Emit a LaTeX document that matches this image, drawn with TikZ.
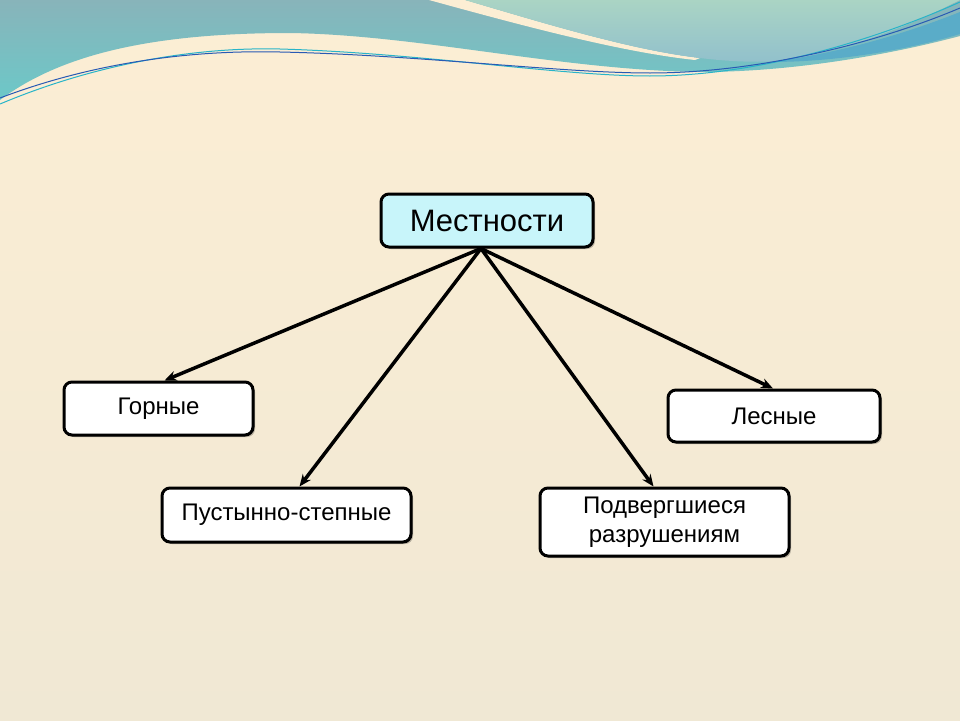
\documentclass[tikz,border=0pt]{standalone}
\usepackage{fontspec}
\setmainfont{Liberation Sans}
\usetikzlibrary{calc,arrows.meta,shadows}
\definecolor{creamtop}{RGB}{252,238,212}
\definecolor{creambot}{RGB}{240,232,212}
\definecolor{tealtop}{RGB}{136,180,186}
\definecolor{tealbot}{RGB}{108,200,200}
\definecolor{greentop}{RGB}{170,212,196}
\definecolor{greenbot}{RGB}{145,192,204}
\definecolor{darkband}{RGB}{90,172,200}
\definecolor{lineblue}{RGB}{40,90,180}
\definecolor{lineteal}{RGB}{40,180,200}
\definecolor{headfill}{RGB}{200,245,250}
\tikzset{
  box/.style={draw=black, line width=3pt, rounded corners=8pt, fill=white, align=center, inner sep=0pt,
    drop shadow={shadow xshift=2pt, shadow yshift=-2pt, fill=black, opacity=0.25},
    font=\fontsize{24}{29}\selectfont},
  arr/.style={line width=3.5pt, -{Stealth[length=12pt,width=10pt]}}
}
\begin{document}
\begin{tikzpicture}[x=1pt,y=-1pt]
\shade[top color=creamtop,bottom color=creambot] (0,0) rectangle (960,720);
\useasboundingbox (0,0) rectangle (960,720);
% teal wave
\shade[top color=tealtop,bottom color=tealbot] (0,0) -- (0,100) .. controls (60,55) and (150,33) .. (290,33) .. controls (420,35) and (560,70) .. (700,72) .. controls (800,72) and (900,52) .. (960,36) -- (960,0) -- cycle;
% cream wedge
\fill[creamtop] (429,0) .. controls (520,25) and (620,52) .. (695,60) -- (700,58) .. controls (630,50) and (540,22) .. (465,0) -- cycle;
% light green region
\shade[top color=greentop,bottom color=greenbot] (465,0) .. controls (540,22) and (630,50) .. (700,58) .. controls (740,63) and (780,63) .. (800,58) .. controls (880,40) and (930,15) .. (960,0) -- cycle;
% darker band
\fill[darkband] (770,62) .. controls (850,52) and (920,28) .. (960,12) -- (960,34) .. controls (900,52) and (830,62) .. (770,62) -- cycle;
% lines
\draw[lineteal,line width=1pt] (0,104) .. controls (100,62) and (200,47) .. (280,49) .. controls (420,53) and (560,76) .. (650,76) .. controls (760,76) and (880,38) .. (960,2);
\draw[lineblue,line width=1pt] (0,98) .. controls (100,60) and (200,50) .. (280,52) .. controls (420,55) and (560,73) .. (650,73) .. controls (760,73) and (880,42) .. (960,8);
% nodes
\node[box, fill=headfill, minimum width=212pt, minimum height=53pt, font=\fontsize{31}{37}\selectfont] (m) at (487,220.5) {Местности};
\node[box, minimum width=189pt, minimum height=53pt] (g) at (158.5,408.5) {Горные};
\node[box, minimum width=212pt, minimum height=52pt] (l) at (774,416) {Лесные};
\node[box, minimum width=249pt, minimum height=54pt] (p) at (286.5,515) {Пустынно-степные};
\node[box, minimum width=249pt, minimum height=68pt] (r) at (664.5,522) {Подвергшиеся\\разрушениям};
\coordinate (hub) at ($(m.south)+(-6,0)$);
\draw[arr] (hub) -- ($(g.north)+(6,0)$);
\draw[arr] (hub) -- ($(p.north)+(13,0)$);
\draw[arr] (hub) -- ($(r.north)+(-11,0)$);
\draw[arr] (hub) -- ($(l.north)+(-1,0)$);
\end{tikzpicture}
\end{document}
